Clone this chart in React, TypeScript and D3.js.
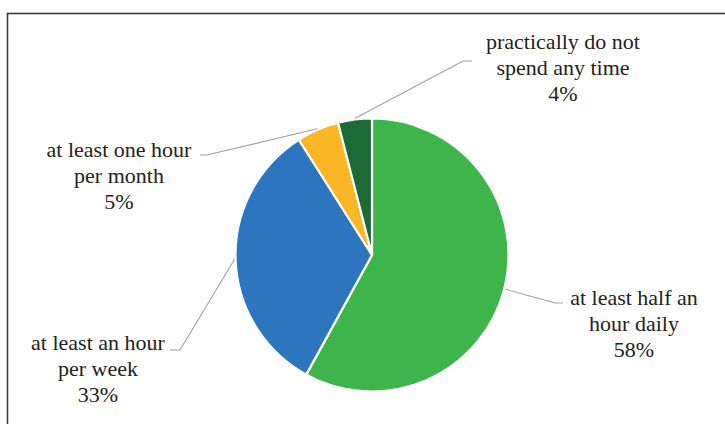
import React, { useEffect, useRef } from "react";
import * as d3 from "d3";

const categories = [
  "at least half an hour daily",
  "at least an hour per week",
  "at least one hour per month",
  "practically do not spend any time",
];
const values = [58, 33, 5, 4];
const labelLines = [
  ["at least half an", "hour daily"],
  ["at least an hour", "per week"],
  ["at least one hour", "per month"],
  ["practically do not", "spend any time"],
];
const colors = ["#3db54b", "#2e75bf", "#fbb626", "#1c6a36"];

// layout (label centers / first baseline, leader elbow + end)
const labelLayout = [
  { x: 634, y: 305, elbow: [555, 303], end: [563, 303] },
  { x: 98, y: 350, elbow: [180, 350], end: [170, 350] },
  { x: 119, y: 157, elbow: [207, 155], end: [200, 155] },
  { x: 563, y: 49, elbow: [463, 61], end: [472, 61] },
];

const W = 725;
const H = 424;
const cx = 372;
const cy = 255;
const R = 136.5;

export default function App() {
  const ref = useRef<SVGSVGElement | null>(null);

  useEffect(() => {
    const svg = d3.select(ref.current);
    svg.selectAll("*").remove();

    svg
      .append("rect")
      .attr("x", 7.5)
      .attr("y", 13.5)
      .attr("width", W + 20)
      .attr("height", H + 20)
      .attr("fill", "#fff")
      .attr("stroke", "#3a3a3a")
      .attr("stroke-width", 1.6);

    const pie = d3
      .pie<number>()
      .value((d) => d)
      .sort(null)
      .startAngle(0)
      .endAngle(2 * Math.PI);
    const arcs = pie(values);
    const arc = d3.arc<d3.PieArcDatum<number>>().innerRadius(0).outerRadius(R);

    svg
      .append("g")
      .attr("transform", `translate(${cx},${cy})`)
      .selectAll("path")
      .data(arcs)
      .join("path")
      .attr("d", (d) => arc(d) || "")
      .attr("fill", (_d, i) => colors[i])
      .attr("stroke", "#fff")
      .attr("stroke-width", 2.2)
      .attr("stroke-linejoin", "round")
      .attr("data-cat", (_d, i) => categories[i]);

    const lineGen = d3.line();
    arcs.forEach((a, i) => {
      const mid = (a.startAngle + a.endAngle) / 2;
      const sx = cx + Math.sin(mid) * (R + 1);
      const sy = cy - Math.cos(mid) * (R + 1);
      const L = labelLayout[i];
      svg
        .append("path")
        .attr("d", lineGen([[sx, sy], L.elbow as [number, number], L.end as [number, number]]) || "")
        .attr("fill", "none")
        .attr("stroke", "#a0a0a0")
        .attr("stroke-width", 1.1);
    });

    const lh = 26;
    labelLayout.forEach((L, i) => {
      [...labelLines[i], `${values[i]}%`].forEach((s, j) => {
        svg
          .append("text")
          .attr("x", L.x)
          .attr("y", L.y + j * lh)
          .attr("text-anchor", "middle")
          .attr("fill", "#222")
          .attr("font-family", "Liberation Serif")
          .attr("font-size", 22)
          .style("font-family", '"Liberation Serif"')
          .text(s);
      });
    });
  }, []);

  return (
    <svg
      ref={ref}
      width={W}
      height={H}
      style={{ position: "absolute", left: 0, top: 0, background: "#fff" }}
    />
  );
}
